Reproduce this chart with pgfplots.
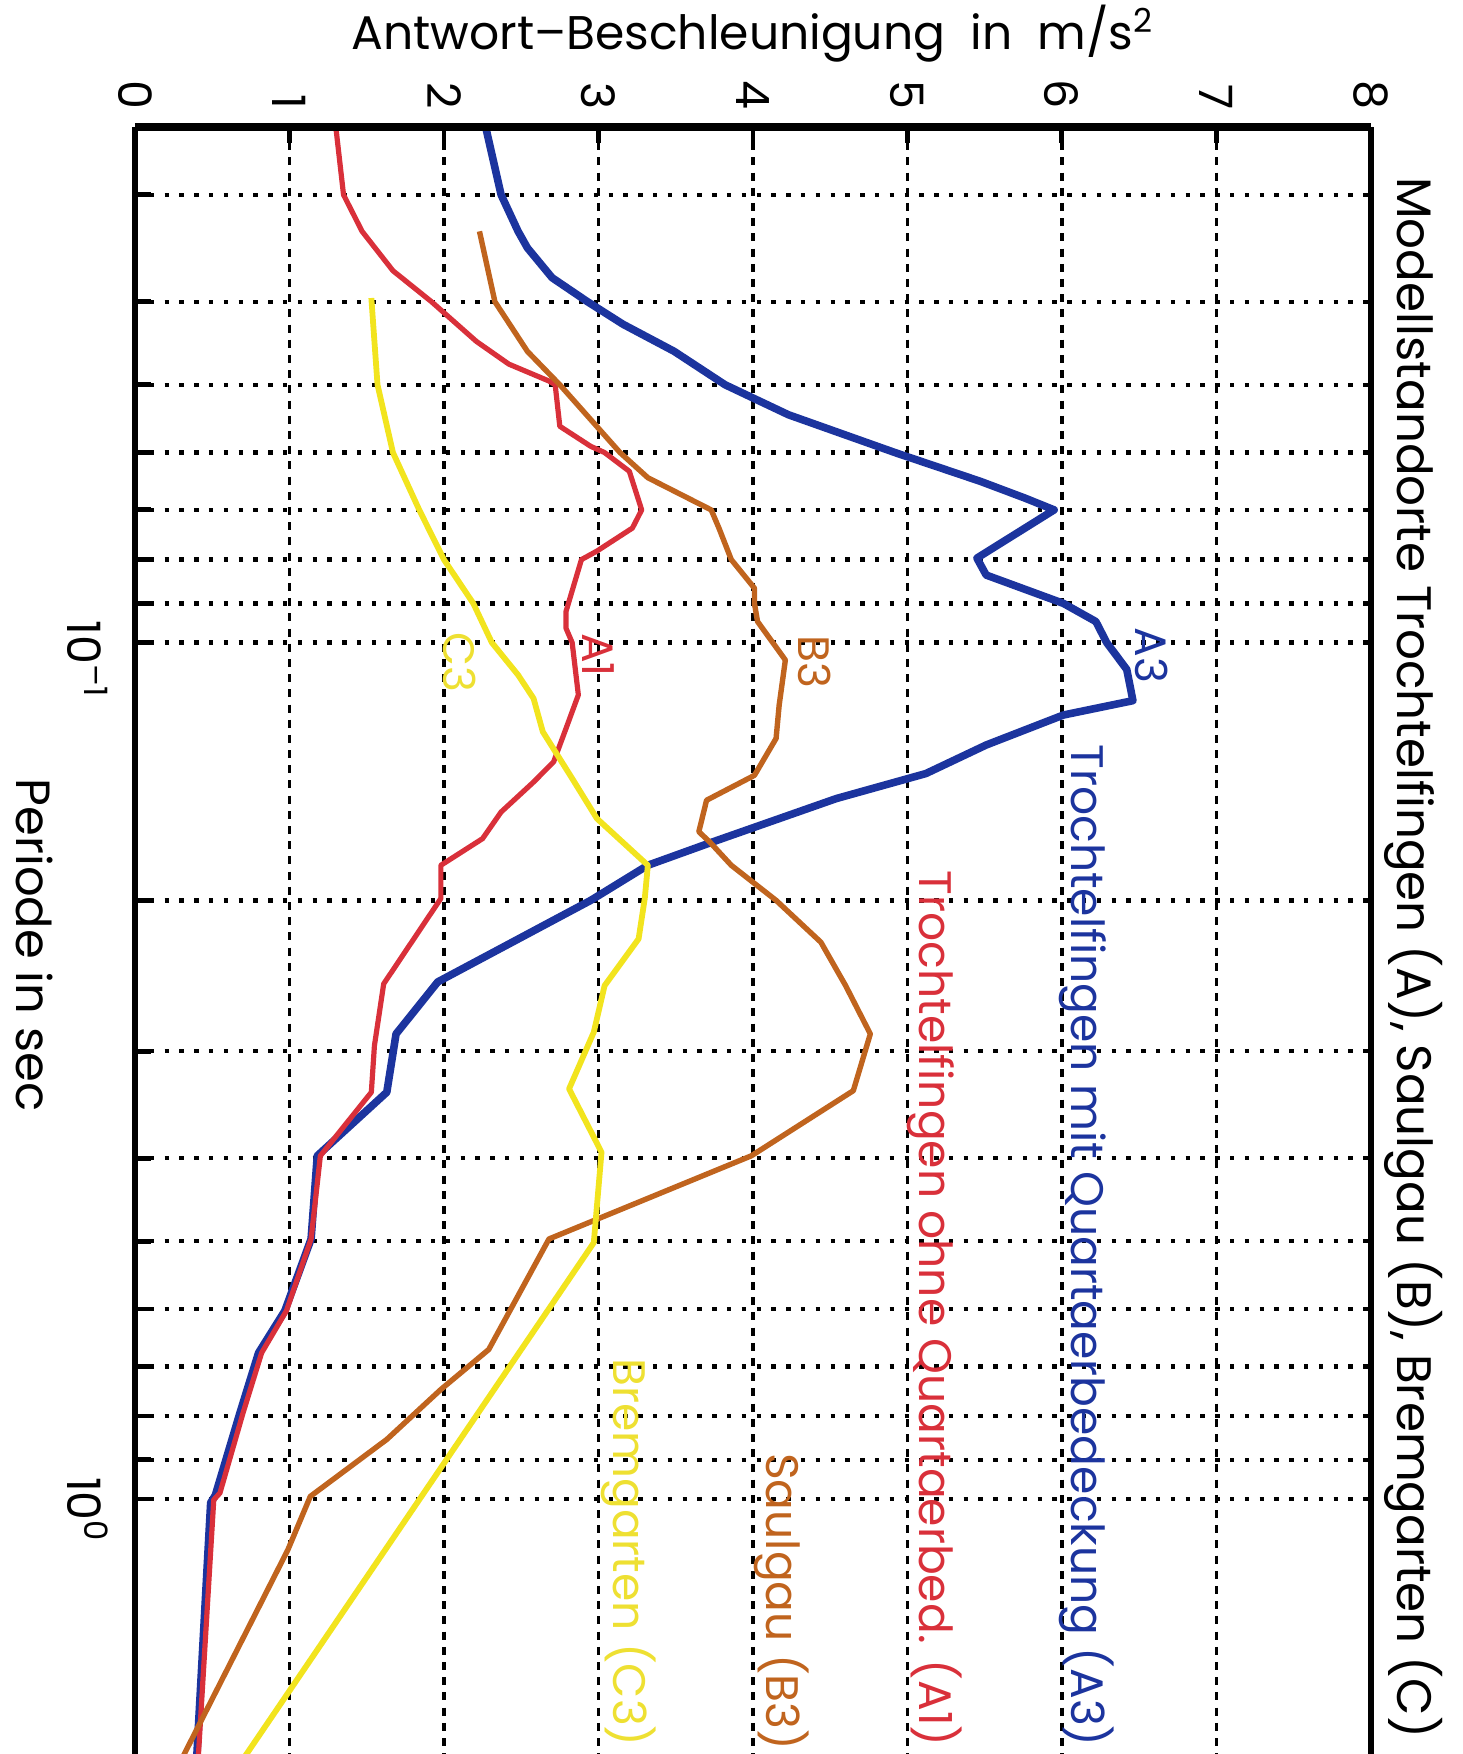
\documentclass[border=0pt]{standalone}
\usepackage{fontspec}
\setmainfont{Poppins}
\usepackage{pgfplots}
\pgfplotsset{compat=1.18}
\definecolor{cA3}{RGB}{28,52,158}
\definecolor{cA1}{RGB}{217,48,58}
\definecolor{cB3}{RGB}{192,100,30}
\definecolor{cC3}{RGB}{242,228,30}
\definecolor{tC3}{RGB}{238,224,50}
\begin{document}
\begin{tikzpicture}
\begin{axis}[
  scale only axis, width=309pt, height=407.5pt,
  xmin=0, xmax=8, ymin=0.025, ymax=2,
  ymode=log, y dir=reverse,
  clip=false,
  axis line style={draw=none},
  xtick={0,1,...,8},
  xtick pos=right, xticklabel pos=right,
  ytick={0.1,1},
  minor ytick={0.03,0.04,0.05,0.06,0.07,0.08,0.09,0.2,0.3,0.4,0.5,0.6,0.7,0.8,0.9},
  yticklabels={10\rlap{\textsuperscript{–1}},10\rlap{\textsuperscript{0}}},
  ytick pos=left, yticklabel pos=left,
  tick align=inside,
  major tick length=4pt, minor tick length=4pt,
  every tick/.style={black, line width=1.2pt},
  grid=both,
  major x grid style={black, line width=0.9pt, dash pattern=on 2pt off 1.8pt},
  major y grid style={black, line width=1.1pt, dash pattern=on 1.1pt off 2.6pt},
  minor y grid style={black, line width=1.1pt, dash pattern=on 1.1pt off 2.6pt},
  /pgf/number format/assume math mode=true,
  xticklabel style={font=\fontsize{11.5}{12}\selectfont, inner sep=0pt, yshift=4.25pt, rotate=-90, anchor=east},
  yticklabel style={font=\fontsize{11.5}{12}\selectfont, inner sep=0pt, xshift=-6.5pt, rotate=-90, anchor=north},
]
% A3 blue
\addplot[cA3, line width=1.9pt, line join=round] coordinates {
(2.27,0.025) (2.37,0.030) (2.48,0.0331) (2.54,0.0346) (2.70,0.0375) (2.93,0.040)
(3.16,0.0425) (3.49,0.0457) (3.82,0.050) (4.23,0.0542) (4.92,0.060) (5.47,0.0648)
(5.76,0.0678) (5.95,0.070) (5.45,0.0797) (5.51,0.0834) (6.01,0.090) (6.22,0.0945)
(6.29,0.100) (6.42,0.1075) (6.46,0.1169) (6.01,0.1215) (5.51,0.1317) (5.12,0.1422)
(4.54,0.1521) (3.74,0.1709) (3.32,0.182) (2.95,0.200) (1.96,0.249) (1.69,0.2864)
(1.63,0.335) (1.18,0.3975) (1.14,0.497) (0.97,0.603) (0.80,0.675) (0.68,0.793)
(0.52,0.99) (0.49,1.01) (0.40,2.0)};
% A1 red
\addplot[cA1, line width=1.3pt, line join=round] coordinates {
(1.30,0.025) (1.35,0.030) (1.47,0.0331) (1.67,0.0368) (1.92,0.040) (2.21,0.0445)
(2.42,0.0473) (2.68,0.0495) (2.72,0.050) (2.75,0.0559) (2.95,0.059) (3.04,0.060)
(3.20,0.0631) (3.28,0.070) (3.22,0.0735) (2.99,0.0782) (2.89,0.080) (2.79,0.092)
(2.79,0.0962) (2.83,0.100) (2.87,0.1151) (2.79,0.126) (2.71,0.1378) (2.58,0.1455)
(2.37,0.1577) (2.25,0.1694) (1.98,0.182) (1.98,0.199) (1.61,0.2503) (1.55,0.2956)
(1.53,0.335) (1.20,0.3975) (1.14,0.497) (0.98,0.603) (0.82,0.675) (0.70,0.793)
(0.55,0.984) (0.51,1.002) (0.41,2.0)};
% B3 brown
\addplot[cB3, line width=1.35pt, line join=round] coordinates {
(2.23,0.0331) (2.33,0.040) (2.54,0.0457) (2.75,0.050) (3.14,0.060) (3.32,0.0642)
(3.73,0.070) (3.78,0.0735) (3.86,0.080) (4.01,0.0864) (4.01,0.090) (4.03,0.0945)
(4.21,0.1048) (4.17,0.1183) (4.15,0.1294) (4.01,0.1429) (3.70,0.1528) (3.65,0.1663)
(3.72,0.1709) (3.86,0.182) (4.15,0.200) (4.44,0.2238) (4.60,0.2515) (4.76,0.2864)
(4.65,0.3336) (3.99,0.3975) (2.68,0.497) (2.29,0.669) (1.98,0.745) (1.63,0.852)
(1.135,0.993) (0.99,1.146) (0.31,2.0)};
% C3 yellow
\addplot[cC3, line width=1.45pt, line join=round] coordinates {
(1.53,0.0396) (1.57,0.050) (1.67,0.060) (1.84,0.070) (2.00,0.080) (2.19,0.090)
(2.31,0.100) (2.48,0.1091) (2.58,0.1162) (2.64,0.1271) (2.83,0.1441) (2.99,0.1605)
(3.32,0.182) (3.30,0.199) (3.26,0.2218) (3.04,0.2515) (2.97,0.285) (2.81,0.332)
(3.02,0.3937) (2.97,0.502) (0.71,2.0)};
% frame (bottom edge is outside the picture)
\draw[line width=1.5pt] (axis cs:0,2) -- (axis cs:0,0.025);
\draw[line width=1.5pt] (axis cs:8,2) -- (axis cs:8,0.025);
\draw[line width=2.2pt] (axis cs:0,0.025) -- (axis cs:8,0.025);
% curve labels
\node[rotate=-90, text=cA3, font=\fontsize{11}{12}\selectfont, inner sep=0pt] at (axis cs:6.58,0.1036) {A3};
\node[rotate=-90, text=cB3, font=\fontsize{11}{12}\selectfont, inner sep=0pt] at (axis cs:4.40,0.1054) {B3};
\node[rotate=-90, text=cA1, font=\fontsize{11}{12}\selectfont, inner sep=0pt] at (axis cs:3.00,0.1034) {A1};
\node[rotate=-90, text=tC3, font=\fontsize{11}{12}\selectfont, inner sep=0pt] at (axis cs:2.10,0.1054) {C3};
% legend texts (right-aligned towards the lower edge)
\node[rotate=-90, anchor=base east, text=cA3, font=\fontsize{11.4}{13}\selectfont, inner sep=0pt] at (axis cs:6.06,1.95) {Trochtelfingen mit Quartaerbedeckung (A3)};
\node[rotate=-90, anchor=base east, text=cA1, font=\fontsize{11.4}{13}\selectfont, inner sep=0pt] at (axis cs:5.08,1.95) {Trochtelfingen ohne Quartaerbed. (A1)};
\node[rotate=-90, anchor=base east, text=cB3, font=\fontsize{11.4}{13}\selectfont, inner sep=0pt] at (axis cs:4.09,1.97) {Saulgau (B3)};
\node[rotate=-90, anchor=base east, text=tC3, font=\fontsize{11.4}{13}\selectfont, inner sep=0pt] at (axis cs:3.10,1.95) {Bremgarten (C3)};
% title and axis labels
\node[rotate=-90, anchor=base west, font=\fontsize{12.1}{14}\selectfont, inner sep=0pt] at (axis cs:8.17,0.02856) {Modellstandorte Trochtelfingen (A), Saulgau (B), Bremgarten (C)};
\node[xshift=-29.5pt, rotate=-90, anchor=base, font=\fontsize{12}{14}\selectfont, inner sep=0pt] at (axis cs:0,0.2255) {Periode in sec};
\node[yshift=19.25pt, anchor=base, font=\fontsize{11.8}{14}\selectfont, inner sep=0pt] at (axis cs:4,0.025) {Antwort–Beschleunigung\ \ in\ \ m/s\textsuperscript{2}};
\coordinate (BL) at (axis cs:0,2);
\coordinate (TR) at (axis cs:8,0.025);
\end{axis}
\pgfresetboundingbox
\path[use as bounding box] ([xshift=-33.75pt,yshift=0.7pt]BL) rectangle ([xshift=23pt,yshift=31.75pt]TR);
\end{tikzpicture}
\end{document}
